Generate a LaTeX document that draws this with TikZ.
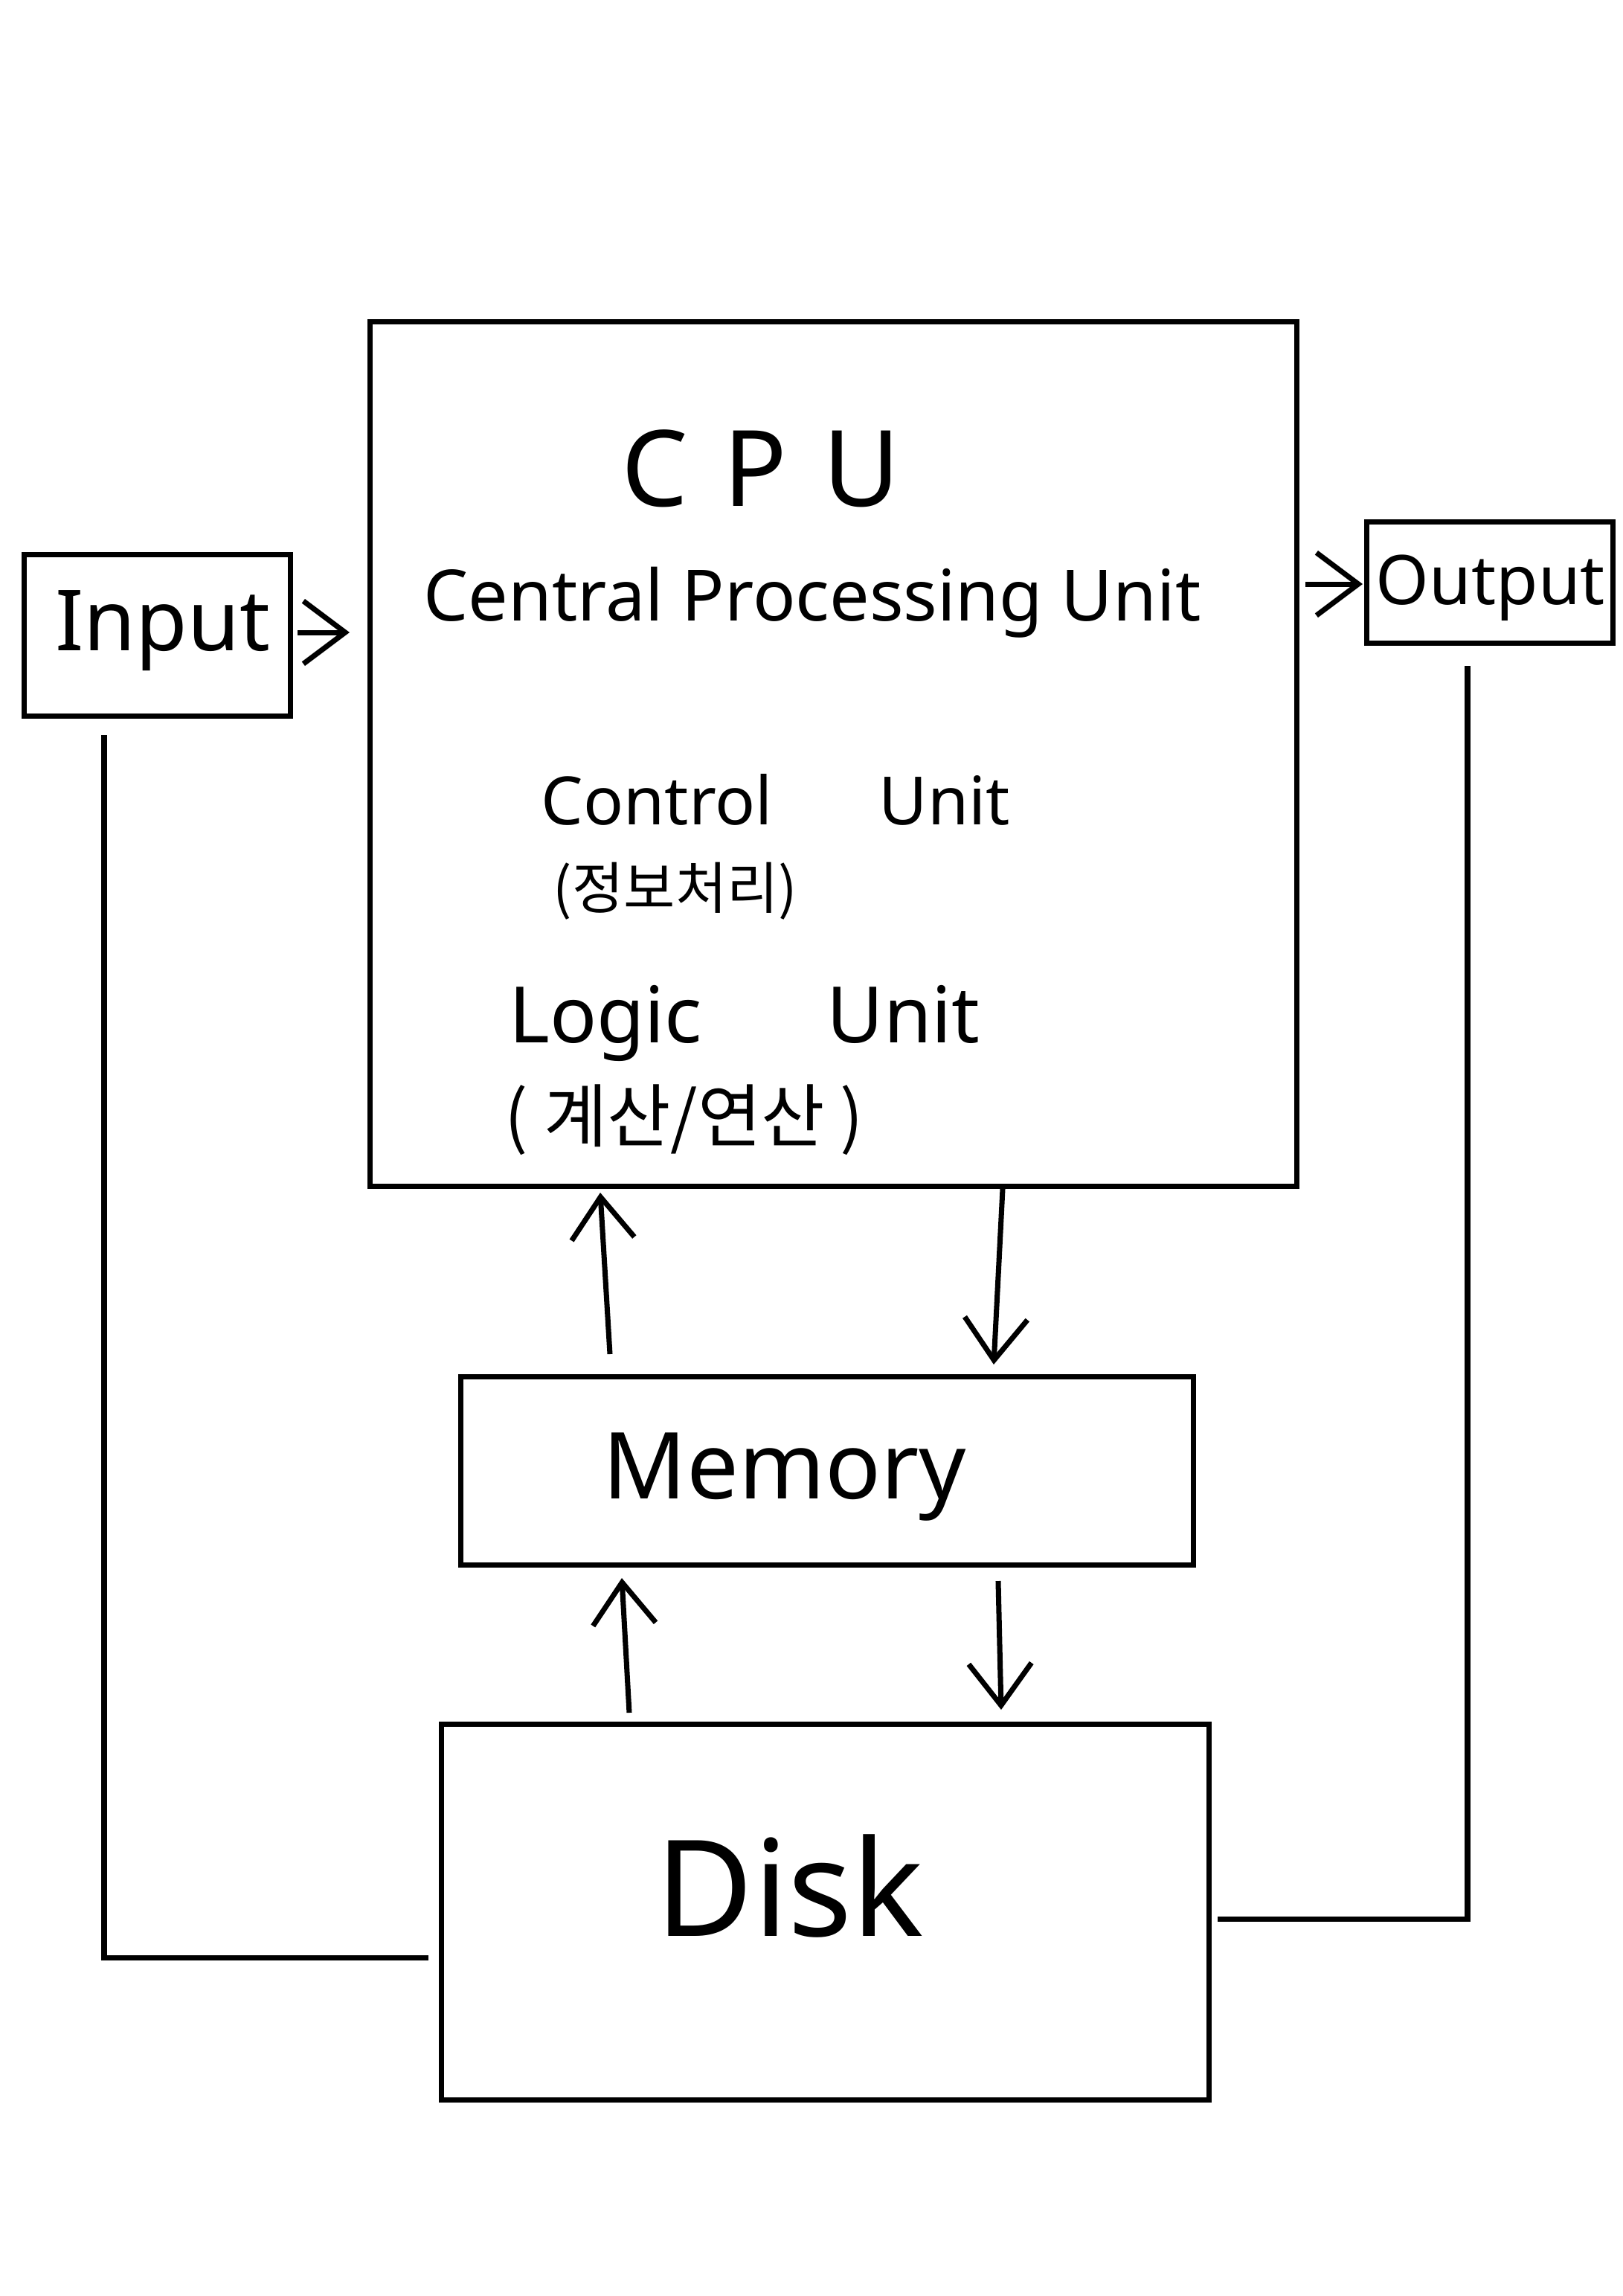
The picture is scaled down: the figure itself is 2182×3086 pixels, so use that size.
\documentclass[tikz,border=0pt]{standalone}
\usepackage{fontspec}
\setmainfont{Noto Sans}
\newfontfamily\krfont{Noto Sans CJK KR}
\usetikzlibrary{arrows.meta}
\tikzset{
  box/.style={draw, line width=2pt, inner sep=0pt},
  lbl/.style={inner sep=0pt, anchor=center},
  arr/.style={line width=2pt, -{Straight Barb[length=16pt, width=24pt, line width=2pt]}},
  wire/.style={line width=2pt}
}
\newcommand{\fitw}[2]{\resizebox{#1}{!}{#2}}
\begin{document}
\begin{tikzpicture}[x=0.01cm, y=-0.01cm]
\useasboundingbox (0,0) rectangle (2182,3086);
% boxes
\node[box, minimum width=12.45cm, minimum height=11.61cm] (cpu) at (1120.5,1013.5) {};
\node[box, minimum width=3.57cm, minimum height=2.16cm] (inp) at (211.5,854) {};
\node[box, minimum width=3.30cm, minimum height=1.62cm] (out) at (2003,783) {};
\node[box, minimum width=9.84cm, minimum height=2.52cm] (mem) at (1112,1977) {};
\node[box, minimum width=10.31cm, minimum height=5.04cm] (disk) at (1109.5,2570) {};
% texts
\node[lbl] (tcpu) at (1023,630) {\fitw{3.74cm}{C\,\,P\,\,U}};
\node[lbl] (tcpu2) at (1092,810) {\fitw{10.44cm}{Central Processing Unit}};
\node[lbl] (tcu) at (1043,1075) {\fitw{6.30cm}{Control\hspace{1.6em}Unit}};
\node[lbl] (tcuk) at (908,1198) {\fitw{3.28cm}{\krfont (정보처리)}};
\node[lbl] (tlu) at (1001,1375) {\fitw{6.33cm}{Logic\hspace{1.6em}Unit}};
\node[lbl] (tluk) at (920,1505) {\fitw{4.82cm}{\krfont ( 계산/연산 )}};
\node[lbl] (tmem) at (1055,1985) {\fitw{4.88cm}{Memory}};
\node[lbl] (tdisk) at (1062,2535) {\fitw{3.60cm}{Disk}};
\node[lbl] (tin) at (219,848) {\fitw{2.89cm}{Input}};
\node[lbl] (tout) at (2004,790) {\fitw{3.08cm}{Output}};
% connector end points
\coordinate (a1s) at (400,850);
\coordinate (a1e) at (470,850);
\coordinate (a2s) at (1755,785);
\coordinate (a2e) at (1832,785);
\coordinate (m1s) at (820,1820);
\coordinate (m1e) at (807,1603);
\coordinate (c1s) at (1348,1598);
\coordinate (c1e) at (1336,1834);
\coordinate (d1s) at (846,2302);
\coordinate (d1e) at (836,2121);
\coordinate (m2s) at (1342,2125);
\coordinate (m2e) at (1346,2298);
\coordinate (lin) at (576,2631);
\coordinate (lout) at (1637,2579);
% arrows
\draw[arr] (a1s) -- (a1e);
\draw[arr] (a2s) -- (a2e);
\draw[arr] (m1s) -- (m1e);
\draw[arr] (c1s) -- (c1e);
\draw[arr] (d1s) -- (d1e);
\draw[arr] (m2s) -- (m2e);
% wires
\draw[wire] (lin) -- (140,2631) -- (140,988);
\draw[wire] (lout) -- (1973,2579) -- (1973,895);
\end{tikzpicture}
\end{document}
